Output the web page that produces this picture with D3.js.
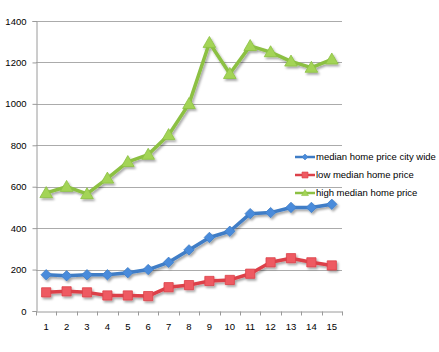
<!DOCTYPE html>
<html>
<head>
<meta charset="utf-8">
<script src="https://cdn.jsdelivr.net/npm/d3@7"></script>
<style>
  body { margin: 0; background: #fff; }
  svg { display: block; font-family: "Liberation Sans", Arial, sans-serif; }
</style>
</head>
<body>
<div id="chart"></div>
<script>
// data
const categories = ["1","2","3","4","5","6","7","8","9","10","11","12","13","14","15"];
const cityWide = [175, 170, 175, 175, 185, 200, 235, 295, 355, 385, 470, 475, 500, 500, 515];
const lowMedian = [90, 95, 90, 75, 75, 72, 115, 125, 145, 150, 180, 235, 255, 235, 220];
const highMedian = [570, 600, 565, 640, 720, 755, 850, 1000, 1295, 1145, 1280, 1250, 1205, 1175, 1215];
const yTicks = [0, 200, 400, 600, 800, 1000, 1200, 1400];
const seriesNames = ["median home price city wide", "low median home price", "high median home price"];

const series = [
  { name: seriesNames[0], values: cityWide, line: "#3F7DC6", fill: "#4A8BDB", marker: "diamond" },
  { name: seriesNames[1], values: lowMedian, line: "#DC4149", fill: "#EE5A62", marker: "square" },
  { name: seriesNames[2], values: highMedian, line: "#8CC043", fill: "#A3D457", marker: "triangle" }
];

const width = 439, height = 352;
const margin = { top: 21, left: 36, right: 97, bottom: 41 };

const svg = d3.select("#chart").append("svg")
  .attr("width", width)
  .attr("height", height);

const defs = svg.append("defs");
const shadow = defs.append("filter").attr("id", "shadow")
  .attr("x", "-20%").attr("y", "-20%").attr("width", "140%").attr("height", "140%");
shadow.append("feDropShadow")
  .attr("dx", 1.5).attr("dy", 2).attr("stdDeviation", 1.2)
  .attr("flood-color", "#000").attr("flood-opacity", 0.35);

const x = d3.scaleBand()
  .domain(categories)
  .range([margin.left, width - margin.right]);

const y = d3.scaleLinear()
  .domain([0, 1400])
  .range([height - margin.bottom, margin.top]);

// gridlines
svg.append("g")
  .selectAll("line")
  .data(yTicks.filter(d => d > 0))
  .join("line")
  .attr("x1", margin.left)
  .attr("x2", width - margin.right)
  .attr("y1", d => Math.round(y(d)) + 0.5)
  .attr("y2", d => Math.round(y(d)) + 0.5)
  .attr("stroke", "#ABABAB")
  .attr("stroke-width", 1.2);

// y axis
const yAxis = svg.append("g")
  .attr("transform", `translate(${margin.left + 0.5},0)`)
  .call(d3.axisLeft(y).tickValues(yTicks).tickFormat(d3.format("d")).tickSize(4).tickPadding(6));
yAxis.select(".domain").attr("stroke", "#9A9A9A");
yAxis.selectAll(".tick line").attr("stroke", "#9A9A9A");
yAxis.selectAll(".tick text")
  .attr("font-size", 9.5)
  .attr("font-family", "Liberation Sans, Arial, sans-serif")
  .attr("fill", "#000");

// x axis
const xAxis = svg.append("g")
  .attr("transform", `translate(0,${Math.round(y(0)) + 0.5})`)
  .call(d3.axisBottom(x).tickSize(0).tickPadding(12));
xAxis.select(".domain").attr("stroke", "#9A9A9A");
xAxis.selectAll(".tick text")
  .attr("font-size", 9.5)
  .attr("font-family", "Liberation Sans, Arial, sans-serif")
  .attr("fill", "#000");
// tick marks between categories
xAxis.append("g")
  .selectAll("line")
  .data(categories.concat(["end"]))
  .join("line")
  .attr("x1", (d, i) => Math.round(margin.left + i * x.bandwidth()) + 0.5)
  .attr("x2", (d, i) => Math.round(margin.left + i * x.bandwidth()) + 0.5)
  .attr("y1", 0)
  .attr("y2", 4)
  .attr("stroke", "#9A9A9A");

const cx = d => x(d) + x.bandwidth() / 2;

function markerPath(type, s) {
  if (type === "diamond") return `M0,${-s}L${s},0L0,${s}L${-s},0Z`;
  if (type === "square") return `M${-s},${-s}H${s}V${s}H${-s}Z`;
  return `M0,${-s * 1.15}L${s * 1.15},${s * 0.85}H${-s * 1.15}Z`;
}

const line = d3.line()
  .x((d, i) => cx(categories[i]))
  .y(d => y(d));

const plot = svg.append("g").attr("filter", "url(#shadow)");

series.forEach(s => {
  const g = plot.append("g");
  g.append("path")
    .datum(s.values)
    .attr("d", line)
    .attr("fill", "none")
    .attr("stroke", s.line)
    .attr("stroke-width", 3.5)
    .attr("stroke-linejoin", "round");

  g.selectAll("path.mk")
    .data(s.values)
    .join("path")
    .attr("class", "mk")
    .attr("transform", (d, i) => `translate(${cx(categories[i])},${y(d)})`)
    .attr("d", markerPath(s.marker, s.marker === "triangle" ? 5.5 : s.marker === "square" ? 4.6 : 5.2))
    .attr("fill", s.fill)
    .attr("stroke", s.line)
    .attr("stroke-width", 0.8);
});

// legend
const legend = svg.append("g")
  .attr("transform", "translate(295,157)");

const item = legend.selectAll("g")
  .data(series)
  .join("g")
  .attr("transform", (d, i) => `translate(0,${i * 18})`);

item.append("line")
  .attr("x1", 0).attr("x2", 20)
  .attr("stroke", d => d.line)
  .attr("stroke-width", 2.5);

item.append("path")
  .attr("transform", "translate(10,0)")
  .attr("d", d => markerPath(d.marker, 3))
  .attr("fill", d => d.fill)
  .attr("stroke", d => d.line)
  .attr("stroke-width", 0.6);

item.append("text")
  .attr("x", 21)
  .attr("dy", "0.35em")
  .attr("font-size", 9.5)
  .attr("fill", "#000")
  .text(d => d.name);
</script>
</body>
</html>
